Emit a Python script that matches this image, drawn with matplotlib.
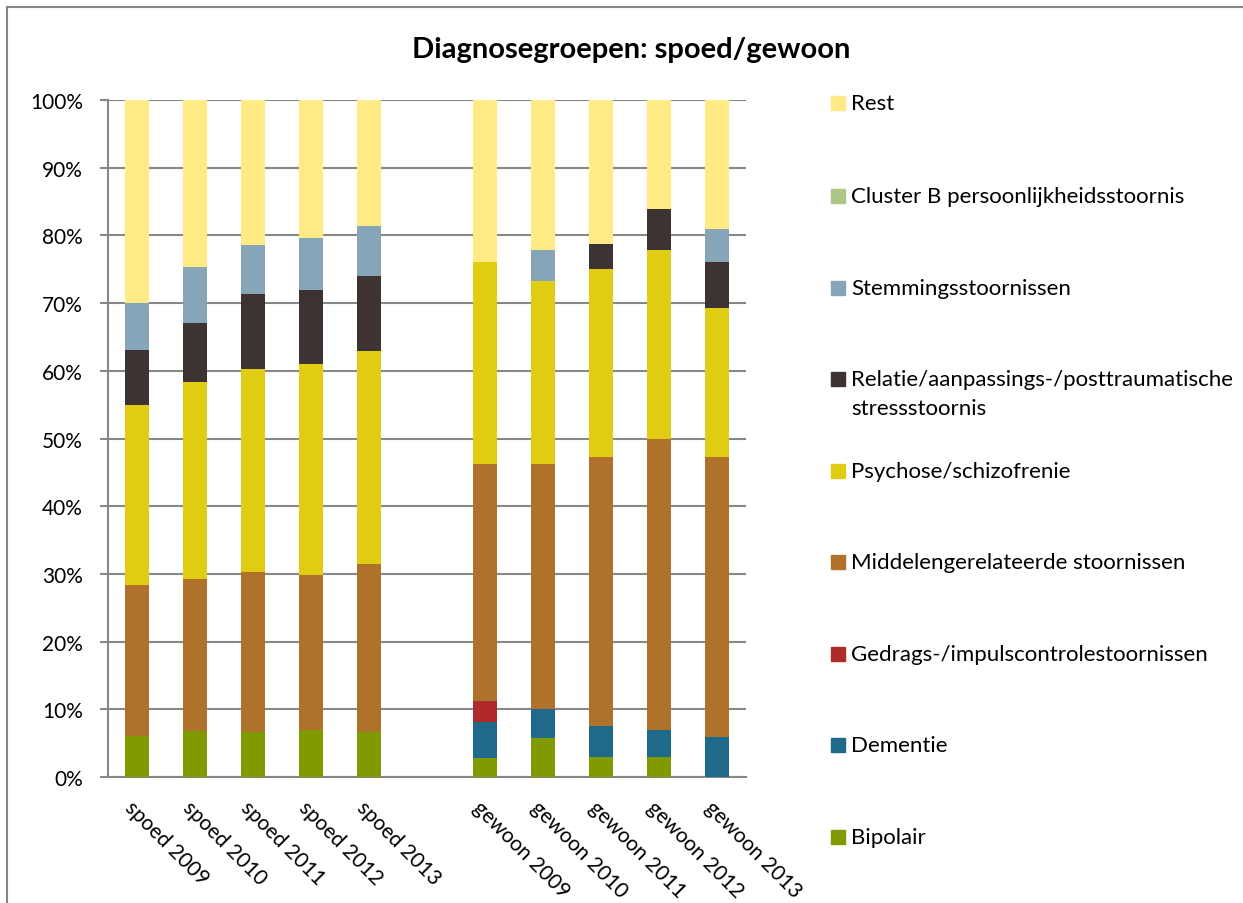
import numpy as np
import matplotlib
matplotlib.use("Agg")
import matplotlib.pyplot as plt
from matplotlib.patches import Rectangle
from matplotlib.lines import Line2D
import matplotlib.transforms as mtransforms

plt.rcParams['font.family'] = ['Lato', 'DejaVu Sans']

categories = ["spoed 2009", "spoed 2010", "spoed 2011", "spoed 2012", "spoed 2013", "",
              "gewoon 2009", "gewoon 2010", "gewoon 2011", "gewoon 2012", "gewoon 2013"]

series_names = ["Bipolair", "Dementie", "Gedrags-/impulscontrolestoornissen",
                "Middelengerelateerde stoornissen", "Psychose/schizofrenie",
                "Relatie/aanpassings-/posttraumatische\nstressstoornis",
                "Stemmingsstoornissen", "Cluster B persoonlijkheidsstoornis", "Rest"]

nan = np.nan
bipolair  = [6.1, 6.8, 6.6, 7.0, 6.6, nan, 2.8, 5.8, 2.9, 2.9, 0.0]
dementie  = [0.0, 0.0, 0.0, 0.0, 0.0, nan, 5.3, 4.3, 4.7, 4.1, 5.9]
gedrags   = [0.0, 0.0, 0.0, 0.0, 0.0, nan, 3.1, 0.0, 0.0, 0.0, 0.0]
middelen  = [22.3, 22.4, 23.7, 22.9, 24.9, nan, 35.0, 36.2, 39.7, 43.0, 41.4]
psychose  = [26.5, 29.1, 30.0, 31.1, 31.4, nan, 29.8, 27.0, 27.7, 27.9, 22.0]
relatie   = [8.1, 8.8, 11.0, 10.9, 11.1, nan, 0.0, 0.0, 3.8, 6.0, 6.7]
stemming  = [7.0, 8.3, 7.3, 7.7, 7.4, nan, 0.0, 4.5, 0.0, 0.0, 4.9]
clusterb  = [0.0, 0.0, 0.0, 0.0, 0.0, nan, 0.0, 0.0, 0.0, 0.0, 0.0]
rest      = [30.0, 24.6, 21.4, 20.4, 18.6, nan, 24.0, 22.2, 21.2, 16.1, 19.1]

yticks = [0, 10, 20, 30, 40, 50, 60, 70, 80, 90, 100]
ytick_labels = ["0%", "10%", "20%", "30%", "40%", "50%", "60%", "70%", "80%", "90%", "100%"]

colors = ["#7F9B00", "#1F6A8A", "#B02A2C", "#B0722A", "#E0CC12",
          "#3D3332", "#86A5B9", "#ADC785", "#FFEA85"]

data = [bipolair, dementie, gedrags, middelen, psychose, relatie, stemming, clusterb, rest]

W, H = 1243, 904
fig = plt.figure(figsize=(W / 100, H / 100), dpi=100)
ax = fig.add_axes([108 / W, (H - 778) / H, (746 - 108) / W, 677 / H])

x = np.arange(len(categories))
bottom = np.zeros(len(categories))
for vals, col in zip(data, colors):
    v = np.array(vals, dtype=float)
    ax.bar(x, np.nan_to_num(v), width=0.41, bottom=bottom, color=col,
           edgecolor='none', zorder=3)
    bottom += np.nan_to_num(v)

ax.set_xlim(-0.5, len(categories) - 0.5)
ax.set_ylim(0, 100)
ax.set_yticks(yticks)
ax.set_yticklabels(ytick_labels, fontsize=15)
ax.yaxis.grid(True, color='#888888', linewidth=1.5, zorder=0)
ax.set_axisbelow(True)
for s in ['top', 'right']:
    ax.spines[s].set_visible(False)
for s in ['left', 'bottom']:
    ax.spines[s].set_color('#888888')
    ax.spines[s].set_linewidth(1.5)
ax.tick_params(axis='y', direction='out', length=6, width=1.5, color='#888888',
               pad=12, labelcolor='#000000')
ax.tick_params(axis='x', length=0)
ax.set_xticks(x)
ax.set_xticklabels(categories, rotation=-45, ha='left', va='top',
                   rotation_mode='anchor', fontsize=15)
offset = mtransforms.ScaledTranslation(-2 / 100, -15 / 100, fig.dpi_scale_trans)
for lab in ax.get_xticklabels():
    lab.set_transform(lab.get_transform() + offset)

fig.text(631 / W, 1 - 50 / H, "Diagnosegroepen: spoed/gewoon", ha='center', va='center',
         fontsize=21, fontweight='bold')

# legend (top to bottom: reversed order)
leg_y = [104, 197, 289, 380, 472, 563, 655, 746, 838]
for i, (name, col) in enumerate(zip(series_names[::-1], colors[::-1])):
    yc = leg_y[i]
    fig.patches.append(Rectangle((831 / W, 1 - (yc + 7) / H), 14 / W, 14 / H,
                                 transform=fig.transFigure, color=col, figure=fig))
    lines = name.split("\n")
    for j, ln in enumerate(lines):
        fig.text(851 / W, 1 - (yc + j * 29) / H, ln, ha='left', va='center', fontsize=16)

# outer frame
fig.add_artist(Line2D([7 / W, 7 / W], [0, 1 - 8 / H], transform=fig.transFigure,
                      color='#888888', linewidth=1.5))
fig.add_artist(Line2D([7 / W, 1], [1 - 8 / H, 1 - 8 / H], transform=fig.transFigure,
                      color='#888888', linewidth=1.5))

fig.savefig("out.png", dpi=100)
